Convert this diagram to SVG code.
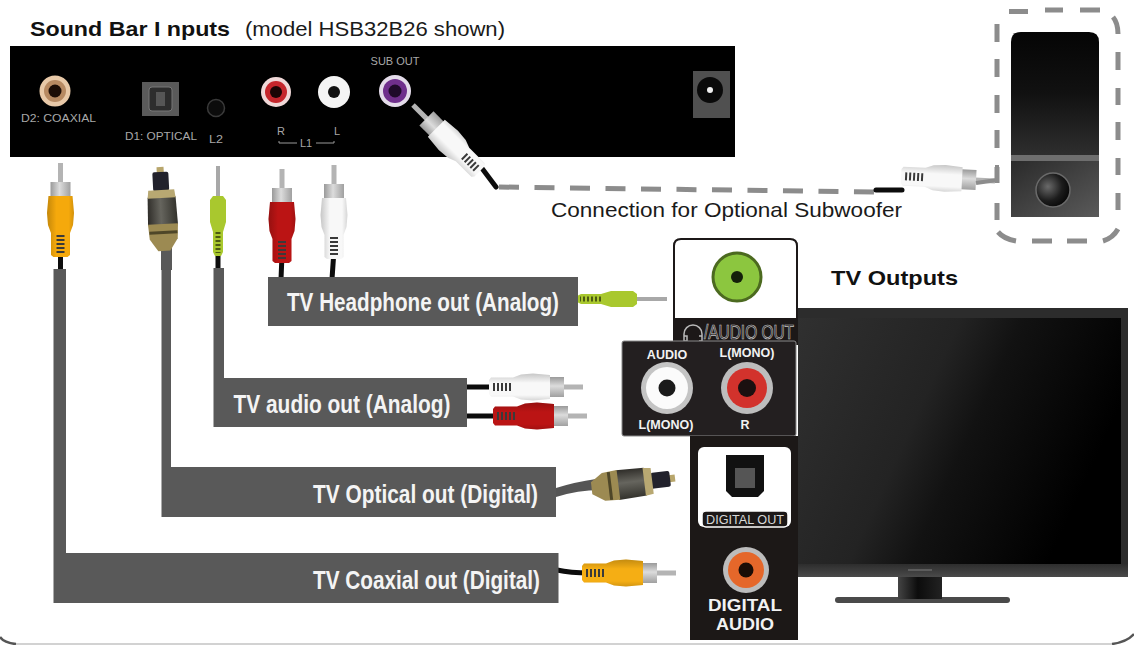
<svg xmlns="http://www.w3.org/2000/svg" width="1134" height="645" viewBox="0 0 1134 645">
<style>
  text { font-family: "Liberation Sans", Arial, sans-serif; }
  .bar { fill: #595959; }
  .bar-label { font-size: 26px; font-weight: 700; fill: #f4f4f4; }
  .heading { font-size: 21px; font-weight: 700; fill: #111; }
  .note { font-size: 21px; fill: #1a1a1a; }
  .silk { font-size: 11px; fill: #a8a8a8; }
  .panel-bold { font-weight: 700; fill: #f2f2f2; text-anchor: middle; }
  .cable { fill: none; stroke: #0c0c0c; stroke-width: 5; stroke-linecap: round; }
  .dash { fill: none; stroke: #8c8c8c; stroke-width: 5; stroke-dasharray: 20 15.500; }
  .dash-solid { fill: none; stroke: #8c8c8c; stroke-width: 5; }
</style>
<defs>
  <linearGradient id="shade" x1="0" x2="1" y1="0" y2="0">
    <stop offset="0" stop-color="#000" stop-opacity=".2"/>
    <stop offset=".35" stop-color="#000" stop-opacity="0"/>
    <stop offset=".8" stop-color="#000" stop-opacity="0"/>
    <stop offset="1" stop-color="#000" stop-opacity=".14"/>
  </linearGradient>
  <linearGradient id="metal" x1="0" x2="1" y1="0" y2="0">
    <stop offset="0" stop-color="#9a9a9a"/>
    <stop offset=".45" stop-color="#dcdcdc"/>
    <stop offset="1" stop-color="#a0a0a0"/>
  </linearGradient>
  <linearGradient id="tos-body" x1="0" x2="1" y1="0" y2="0">
    <stop offset="0" stop-color="#2e2c28"/>
    <stop offset=".45" stop-color="#66655e"/>
    <stop offset="1" stop-color="#33322c"/>
  </linearGradient>
  <linearGradient id="sub-top" x1="0" x2="0" y1="0" y2="1">
    <stop offset="0" stop-color="#050505"/>
    <stop offset=".5" stop-color="#111"/>
    <stop offset="1" stop-color="#2e2e2e"/>
  </linearGradient>
  <linearGradient id="sub-low" x1="0" x2="1" y1="0" y2="1">
    <stop offset="0" stop-color="#2a2a2a"/>
    <stop offset="1" stop-color="#5a5a5a"/>
  </linearGradient>
  <radialGradient id="cone" cx=".35" cy=".4" r=".7">
    <stop offset="0" stop-color="#6a6a6a"/>
    <stop offset=".6" stop-color="#1c1c1c"/>
    <stop offset="1" stop-color="#050505"/>
  </radialGradient>
  <linearGradient id="screen" x1="0" x2="1" y1="0" y2=".35">
    <stop offset="0" stop-color="#303030"/>
    <stop offset=".45" stop-color="#232323"/>
    <stop offset=".62" stop-color="#121212"/>
    <stop offset="1" stop-color="#000"/>
  </linearGradient>
  <linearGradient id="bezel" x1="0" x2="0" y1="0" y2="1">
    <stop offset="0" stop-color="#2c2c2c"/>
    <stop offset=".95" stop-color="#2c2c2c"/>
    <stop offset="1" stop-color="#4a4a4a"/>
  </linearGradient>
  <linearGradient id="neck" x1="0" x2="1" y1="0" y2="0">
    <stop offset="0" stop-color="#444"/>
    <stop offset=".45" stop-color="#0c0c0c"/>
    <stop offset="1" stop-color="#222"/>
  </linearGradient>

  <!-- RCA plug: tip at the origin, cable end toward +y -->
  <g id="rca">
    <rect x="-2.5" y="0" width="5" height="20" fill="#b4b4b4"/>
    <rect x="-10" y="19" width="20" height="15" fill="url(#metal)"/>
    <path d="M-12 33H12L13.500 50L12.500 62L9.500 70V92L7 94H-7L-9.500 92V70L-12.500 62L-13.500 50Z" fill="currentColor"/>
    <path d="M-12 33H12L13.500 50L12.500 62L9.500 70V92L7 94H-7L-9.500 92V70L-12.500 62L-13.500 50Z" fill="url(#shade)"/>
    <line x1="0" x2="0" y1="72" y2="91" stroke="#3a3a3a" stroke-width="8" stroke-dasharray="2 2"/>
  </g>
  <!-- 3.5 mm plug: same orientation -->
  <g id="mini">
    <rect x="-2" y="0" width="4" height="31" fill="#a8a8a8"/>
    <path d="M-5 30H5L8 34V56L5 66V86L3 90H-3L-5 86V66L-8 56V34Z" fill="#a9c82e"/>
    <line x1="0" x2="0" y1="66" y2="87" stroke="#4c5a12" stroke-width="5" stroke-dasharray="2 2"/>
  </g>
  <!-- Toslink plug: same orientation -->
  <g id="toslink">
    <rect x="-3.500" y="0" width="7" height="8" fill="#b8a66c"/>
    <rect x="-8" y="5" width="16" height="19" rx="2" fill="#22222c"/>
    <path d="M-14 30H14L15 58H-15Z" fill="url(#tos-body)"/>
    <path d="M-13 23H13L14 31H-14Z" fill="#b8a872"/>
    <path d="M-15 57H15L14 72L6 84H-6L-14 72Z" fill="#9c8a52"/>
    <path d="M-14 64H14L14 67H-14Z" fill="#4e4628"/>
  </g>
</defs>

<rect width="1134" height="645" fill="#fff"/>

<!-- frame along the lower edge -->
<g id="frame" fill="none">
  <path d="M16 644H1112" stroke="#d2d2d2" stroke-width="2"/>
  <path d="M0 637Q4 643 16 644" stroke="#555" stroke-width="2.500"/>
  <path d="M1112 644Q1127 642 1134 634" stroke="#555" stroke-width="2.500"/>
</g>

<text class="heading" x="30" y="36" textLength="200" lengthAdjust="spacingAndGlyphs">Sound Bar I nputs</text>
<text class="note" x="245" y="36" textLength="260" lengthAdjust="spacingAndGlyphs">(model HSB32B26 shown)</text>

<g id="sound-bar">
  <rect x="10" y="46" width="725" height="111" fill="#000"/>
  <circle cx="55" cy="91" r="15.500" fill="#e8c9a8"/>
  <circle cx="55" cy="91" r="11" fill="#b78a62"/>
  <circle cx="55" cy="91" r="6.500" fill="#1c0d06"/>
  <text class="silk" x="21" y="122" textLength="75" lengthAdjust="spacingAndGlyphs">D2: COAXIAL</text>
  <rect x="142" y="82" width="37" height="34" fill="#5a5a5a"/>
  <rect x="149" y="87" width="23" height="24" rx="3" fill="#2d2d2d" stroke="#777"/>
  <rect x="156" y="92" width="9" height="14" fill="#565656"/>
  <text class="silk" x="125" y="140" textLength="72" lengthAdjust="spacingAndGlyphs">D1: OPTICAL</text>
  <circle cx="216" cy="108" r="8.500" fill="#0c0c0c" stroke="#3a3a3a" stroke-width="1.500"/>
  <text class="silk" x="209" y="143" textLength="14" lengthAdjust="spacingAndGlyphs">L2</text>
  <circle cx="276" cy="92" r="15" fill="#f0d8d8"/>
  <circle cx="276" cy="92" r="11" fill="#c5262c"/>
  <circle cx="276" cy="92" r="6" fill="#1a0505"/>
  <circle cx="334" cy="92" r="16" fill="#f4f4f4"/>
  <circle cx="334" cy="92" r="6" fill="#111"/>
  <circle cx="395" cy="91" r="16" fill="#e4dcea"/>
  <circle cx="395" cy="91" r="12" fill="#6f2f8c"/>
  <circle cx="395" cy="91" r="6.500" fill="#1f0a2a"/>
  <text class="silk" x="395" y="65" text-anchor="middle">SUB OUT</text>
  <text class="silk" x="281" y="135" text-anchor="middle">R</text>
  <text class="silk" x="337" y="135" text-anchor="middle">L</text>
  <text class="silk" x="306" y="147" text-anchor="middle">L1</text>
  <path d="M279 141V143H297M316 143H334V141" fill="none" stroke="#999"/>
  <rect x="693" y="71" width="37" height="47" fill="#505050"/>
  <circle cx="710" cy="90" r="13" fill="#0a0a0a"/>
  <circle cx="710" cy="90" r="3" fill="#f0f0f0"/>
</g>

<g id="subwoofer">
  <path d="M1011 155V42Q1011 32 1021 32H1089Q1099 32 1099 42V155Z" fill="url(#sub-top)"/>
  <rect x="1011" y="155" width="88" height="6" fill="#6e6e6e"/>
  <rect x="1011" y="161" width="88" height="56" fill="url(#sub-low)"/>
  <circle cx="1053" cy="190" r="17" fill="url(#cone)" stroke="#6a6a6a" stroke-width="1.500"/>
  <!-- dashed outline, each dash placed so the corners stay whole -->
  <path class="dash-solid" d="M1009 11.500H1028M1045 10H1063M1080 10H1100M1113 17Q1118 23 1118 34M1118 52V70M1118 88V105M1118 122V140M1118 158V175M1118 193V210M1118 229Q1113 238 1103 241M1087 241H1067M1052 241H1032M1016 241Q1004 239 998 232M997 220V203M997 183V167M997 148V130M997 113V95M997 77V59M997 42V24"/>
</g>

<g id="tv">
  <rect x="835" y="597" width="175" height="6" rx="3" fill="#4a4a4a"/>
  <rect x="898" y="575" width="44" height="24" fill="url(#neck)"/>
  <rect x="798" y="308" width="330" height="269" fill="url(#bezel)"/>
  <rect x="798" y="318" width="323" height="246" fill="url(#screen)"/>
  <rect x="908" y="569" width="24" height="2" fill="#5c5c5c"/>
</g>

<!-- cables and plugs between the rear panels -->
<g id="connectors">
  <path class="dash" d="M499 187L874 192"/>
  <path class="cable" d="M876 190H902"/>
  <path class="cable" d="M481 167L496 187"/>
  <use href="#rca" color="#f8f8f8" transform="translate(413 105) rotate(-45)"/>
  <use href="#rca" color="#f8f8f8" transform="translate(995 181) rotate(93)"/>
  <path d="M976 183L997 180V165" fill="none" stroke="#8c8c8c" stroke-width="4"/>

  <path class="cable" d="M60.500 250V272"/>
  <use href="#rca" color="#f5a90c" transform="translate(60.500 163)"/>

  <path d="M161 248L172 248L172 270H161Z" fill="#595959"/>
  <use href="#toslink" transform="translate(160 167) rotate(-3)"/>

  <path class="cable" d="M218 252V272" stroke-width="3"/>
  <use href="#mini" transform="translate(218 166)"/>

  <path class="cable" d="M282 255L281 279"/>
  <use href="#rca" color="#bb1414" transform="translate(282 169)"/>
  <path class="cable" d="M334 250L332 279"/>
  <use href="#rca" color="#f8f8f8" transform="translate(334 165)"/>

  <use href="#mini" transform="translate(667 299) rotate(90)"/>

  <path class="cable" d="M466 387H492"/>
  <use href="#rca" color="#f8f8f8" transform="translate(583 387) rotate(90)"/>
  <path class="cable" d="M466 416H495"/>
  <use href="#rca" color="#bb1414" transform="translate(587 416) rotate(90)"/>

  <path d="M556 488Q575 482 596 479L600 490Q578 490 556 497Z" fill="#555"/>
  <use href="#toslink" transform="translate(675 478) rotate(83)"/>

  <path class="cable" d="M557 570Q570 573 590 573"/>
  <use href="#rca" color="#f5ae14" transform="translate(676 573) rotate(90)"/>
</g>

<g id="label-headphone">
  <rect class="bar" x="268" y="277" width="310" height="49"/>
  <text class="bar-label" x="287" y="311" textLength="272" lengthAdjust="spacingAndGlyphs">TV Headphone out (Analog)</text>
</g>
<g id="label-audio">
  <path class="bar" d="M213.500 268H224V378H467V427H213.500Z"/>
  <text class="bar-label" x="233.500" y="413" textLength="217" lengthAdjust="spacingAndGlyphs">TV audio out (Analog)</text>
</g>
<g id="label-optical">
  <path class="bar" d="M161.500 267H171V467H556V517H161.500Z"/>
  <text class="bar-label" x="313" y="503" textLength="225" lengthAdjust="spacingAndGlyphs">TV Optical out (Digital)</text>
</g>
<g id="label-coaxial">
  <path class="bar" d="M53.500 269H66V553H558.500V603H53.500Z"/>
  <text class="bar-label" x="313" y="589" textLength="227" lengthAdjust="spacingAndGlyphs">TV Coaxial out (Digital)</text>
</g>

<text class="note" x="551" y="217" textLength="351" lengthAdjust="spacingAndGlyphs">Connection for Optional Subwoofer</text>
<text class="heading" x="831" y="285" textLength="127" lengthAdjust="spacingAndGlyphs">TV Outputs</text>

<g id="port-headphone">
  <path d="M674 344V246Q674 239 681 239H790Q797 239 797 246V344Z" fill="#fff" stroke="#1c1818" stroke-width="2"/>
  <rect x="673" y="318" width="125" height="26" fill="#1c1818"/>
  <circle cx="737" cy="277" r="24" fill="#8cc63f" stroke="#4c6a20" stroke-width="3"/>
  <circle cx="737" cy="277" r="6" fill="#14200a"/>
  <path d="M684 341V334A9 9 0 0 1 702 334V341M684 336H687V341H684M699 336H702V341H699" fill="none" stroke="#b8b8b8" stroke-width="1.500"/>
  <text x="704" y="339" font-size="20" fill="#1c1818" stroke="#c4c4c4" stroke-width=".7" textLength="90" lengthAdjust="spacingAndGlyphs">/AUDIO OUT</text>
</g>

<g id="port-analog">
  <rect x="622" y="341" width="174" height="95" rx="2" fill="#231f20" stroke="#8a8a8a"/>
  <text class="panel-bold" x="667" y="359" font-size="12.500">AUDIO</text>
  <text class="panel-bold" x="747" y="357" font-size="12.500">L(MONO)</text>
  <circle cx="667" cy="388" r="26" fill="#c4c4c4"/>
  <circle cx="667" cy="388" r="21" fill="#fbfbfb"/>
  <circle cx="667" cy="388" r="8.500" fill="#1b1b1b"/>
  <circle cx="747" cy="388" r="26" fill="#bdbdbd"/>
  <circle cx="747" cy="388" r="20" fill="#d2322c"/>
  <circle cx="747" cy="388" r="9" fill="#1b1010"/>
  <text class="panel-bold" x="666" y="429" font-size="12.500">L(MONO)</text>
  <text class="panel-bold" x="745" y="429" font-size="12.500">R</text>
</g>

<g id="port-digital">
  <rect x="690" y="436" width="108" height="204" fill="#1c1817"/>
  <rect x="698" y="447" width="93" height="80" rx="6" fill="#fff"/>
  <path d="M726 455H764V491L758 497H732L726 491Z" fill="#111"/>
  <rect x="735" y="468" width="20" height="20" fill="#555"/>
  <rect x="702" y="511" width="86" height="16" rx="4" fill="#1c1817" stroke="#fff" stroke-width="1.500"/>
  <text x="745" y="524" font-size="12.500" fill="#d8d8d8" text-anchor="middle" textLength="78" lengthAdjust="spacingAndGlyphs">DIGITAL OUT</text>
  <circle cx="746" cy="570" r="23" fill="#bcbcbc"/>
  <circle cx="746" cy="570" r="18" fill="#e5672a"/>
  <circle cx="746" cy="570" r="7.500" fill="#1b0d06"/>
  <text class="panel-bold" x="745" y="611" font-size="16" textLength="74" lengthAdjust="spacingAndGlyphs">DIGITAL</text>
  <text class="panel-bold" x="745" y="630" font-size="16" textLength="58" lengthAdjust="spacingAndGlyphs">AUDIO</text>
</g>
</svg>
